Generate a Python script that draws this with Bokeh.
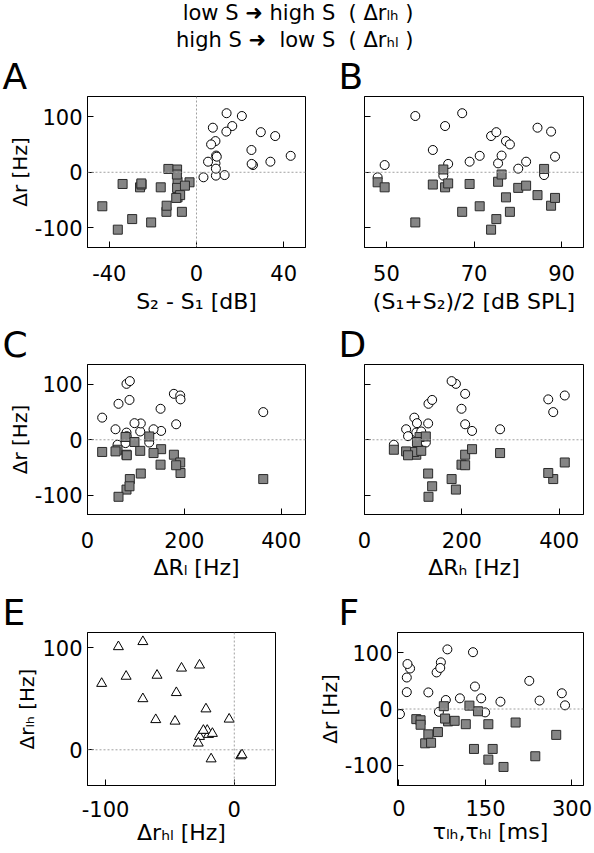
from bokeh.plotting import figure
from bokeh.layouts import column, row
from bokeh.models import (ColumnDataSource, Span, Legend, LegendItem, Title,
                          FixedTicker, Range1d, CustomJSTickFormatter)
from bokeh.embed import file_html
from bokeh.resources import INLINE

# ---------------- data (22 neurons) ----------------
dr_lh = [-9, 13, 101, 40, -6, 83, 15, 106, 19, 29.5, 65, 72, 16, 30, 56, 50, 6.5, 19, 80, -5, 73, 28]
dr_hl = [-18, -27, -90, -22, 5, -27, -20, -71, -21, -61, -103, -84, -17, -4, -45, -71, -28, -24, -41, 6, -60, -46]
dS = [3.2, 25.9, 20.8, 25.2, 8.9, 16.4, 25.3, 13.8, 33.9, 43.2, 36.1, 29.5, 8.7, 9.0, 8.7, 6.7, 8.9, 5.3, 7.5, 12.9, 13.7, 9.3]
level = [48.0, 49.6, 56.6, 60.6, 63.0, 63.4, 64.1, 67.3, 69.0, 71.3, 73.9, 75.1, 75.5, 76.3, 77.3, 78.2, 80.1, 81.9, 84.5, 86.0, 87.6, 88.5]
dR_l = [62, 80.5, 80.5, 30.3, 78.5, 178.3, 108.8, 87.4, 57.8, 110, 64, 86.7, 152, 97, 150.8, 362.8, 81, 136.3, 191.4, 127.4, 192, 183]
dR_h = [60.3, 106.4, 187.8, 102.4, 113.2, 206.8, 116.6, 179, 85.5, 130.8, 131.5, 139, 221, 107.8, 199.3, 387.8, 89.5, 278.6, 411.5, 126, 377.6, 206.8]
tau_lh = [1.7, 176, 128.4, 131.8, 149.4, 72.7, 243.8, 84, 105.7, 51, 65.3, 19.3, 81.3, 13.6, 13.6, 226, 288, 142.6, 14.8, 69.3, 71.6, 282.4]
tau_hl = [30.1, 115.9, 155, 85.2, 77.8, 155, 37.5, 130.1, 96.6, 45.5, 181.3, 236.4, 80, 137, 51, 162.5, 37.5, 202.3, 67.6, 122.2, 55.7, 272.7]

legend_labels = ["\u00a0low S \u279c high S\u00a0\u00a0( \u0394r\u2097\u2095 )",
                 "high S \u279c\u00a0\u00a0low S\u00a0\u00a0( \u0394r\u2095\u2097 )"]

src = ColumnDataSource(data=dict(
    dr_lh=dr_lh, dr_hl=dr_hl, dS=dS, dS_hl=[-v for v in dS], level=level,
    dR_l=dR_l, dR_h=dR_h, tau_lh=tau_lh, tau_hl=tau_hl))

FONT = "DejaVu Sans"
TICK_FS = "21px"
YLABEL_FS = "20px"
XLABEL_FS = "22px"
LETTER_FS = "36px"

CIRC = dict(marker="circle", size=9, fill_color="white", line_color="black", line_width=1)
SQR = dict(marker="square", size=9, fill_color="#858585", line_color="#2a2a2a", line_width=1)
TRI = dict(marker="triangle", size=10, fill_color="white", line_color="black", line_width=1)


def panel(letter, xr, yr, xticks, yticks, fw, fh, bl, bt, br, bb, xlabel, ylabel,
          letter_off, ylabels=True, xstand=(16, 7)):
    p = figure(frame_width=fw, frame_height=fh, x_range=Range1d(*xr), y_range=Range1d(*yr),
               output_backend="svg", toolbar_location=None,
               min_border_left=bl, min_border_top=bt, min_border_right=br, min_border_bottom=bb)
    p.xgrid.visible = False
    p.ygrid.visible = False
    p.outline_line_color = "black"
    p.outline_line_width = 1
    p.xaxis.ticker = FixedTicker(ticks=xticks)
    p.yaxis.ticker = FixedTicker(ticks=yticks)
    for ax in (p.xaxis[0], p.yaxis[0]):
        ax.major_tick_in = 6
        ax.major_tick_out = 0
        ax.minor_tick_in = 0
        ax.minor_tick_out = 0
        ax.axis_line_color = "black"
        ax.major_tick_line_color = "black"
        ax.major_label_text_font = FONT
        ax.major_label_text_font_size = TICK_FS
        ax.major_label_text_color = "black"
        ax.axis_label_text_font = FONT
        ax.axis_label_text_font_style = "normal"
        ax.axis_label_text_color = "black"
        ax.formatter = CustomJSTickFormatter(code="return tick.toFixed(0)")
    p.xaxis.axis_label_text_font_size = XLABEL_FS
    p.yaxis.axis_label_text_font_size = YLABEL_FS
    p.xaxis.major_label_standoff = xstand[0]
    p.xaxis.axis_label_standoff = xstand[1]
    p.yaxis.major_label_standoff = 5
    p.yaxis.axis_label_standoff = 0
    p.xaxis.axis_label = xlabel
    if ylabels:
        p.yaxis.axis_label = ylabel
    else:
        p.yaxis.formatter = CustomJSTickFormatter(code="return ''")
        p.yaxis.major_label_standoff = 0
    p.title = Title(text=letter, align="left", offset=letter_off, standoff=0,
                    text_font=FONT, text_font_size=LETTER_FS, text_font_style="normal",
                    text_color="black")
    return p


def zero(p, dim):
    p.add_layout(Span(location=0, dimension=dim, line_color="#a0a0a0", line_dash="2 2", line_width=1))


YR = (-135, 136)
BT = 44

pA = panel("A", (-50, 50), YR, [-40, 0, 40], [-100, 0, 100], 218, 151, 87, BT, 5, 73,
           "S\u2082 - S\u2081 [dB]", "\u0394r [Hz]", -85, xstand=(17, 5))
zero(pA, "width"); zero(pA, "height")
pA.scatter("dS", "dr_lh", source=src, **CIRC)
pA.scatter("dS_hl", "dr_hl", source=src, **SQR)

pB = panel("B", (45, 95), YR, [50, 70, 90], [-100, 0, 100], 219, 151, 54, BT, 9, 73,
           "(S\u2081+S\u2082)/2 [dB SPL]", "", -26, ylabels=False, xstand=(17, 5))
zero(pB, "width")
pB.scatter("level", "dr_lh", source=src, **CIRC)
pB.scatter("level", "dr_hl", source=src, **SQR)

pC = panel("C", (0, 450), YR, [0, 200, 400], [-100, 0, 100], 218, 150, 87, BT, 5, 74,
           "\u0394R\u2097 [Hz]", "\u0394r [Hz]", -85, xstand=(17, 4))
zero(pC, "width")
pC.scatter("dR_l", "dr_lh", source=src, **CIRC)
pC.scatter("dR_l", "dr_hl", source=src, **SQR)

pD = panel("D", (0, 450), YR, [0, 200, 400], [-100, 0, 100], 219, 150, 54, BT, 9, 74,
           "\u0394R\u2095 [Hz]", "", -26, ylabels=False, xstand=(17, 4))
zero(pD, "width")
pD.scatter("dR_h", "dr_lh", source=src, **CIRC)
pD.scatter("dR_h", "dr_hl", source=src, **SQR)

pE = panel("E", (-114, 32), (-35, 115), [-100, 0], [0, 100], 188, 153, 87, BT, 35, 66,
           "\u0394r\u2095\u2097 [Hz]", "\u0394r\u2097\u2095 [Hz]", -85, xstand=(15, 0))
zero(pE, "width"); zero(pE, "height")
pE.scatter("dr_hl", "dr_lh", source=src, **TRI)

pF = panel("F", (-2.5, 320), (-136, 136), [0, 150, 300], [-100, 0, 100], 186, 153, 87, BT, 9, 66,
           "\u03c4\u2097\u2095,\u03c4\u2095\u2097 [ms]", "\u0394r [Hz]", -59, xstand=(14, 0))
zero(pF, "width")
pF.scatter("tau_lh", "dr_lh", source=src, **CIRC)
pF.scatter("tau_hl", "dr_hl", source=src, **SQR)

# legend figure
leg = figure(width=592, height=52, output_backend="svg", toolbar_location=None,
             x_range=Range1d(0, 1), y_range=Range1d(0, 1), x_axis_type=None, y_axis_type=None,
             min_border=0)
leg.outline_line_color = None
empty = ColumnDataSource(data=dict(x=[], y=[]))
r1 = leg.scatter("x", "y", source=empty, **CIRC)
r2 = leg.scatter("x", "y", source=empty, **SQR)
lg = Legend(items=[LegendItem(label=legend_labels[0], renderers=[r1]),
                   LegendItem(label=legend_labels[1], renderers=[r2])],
            location=(151, 0), label_text_font=FONT, label_text_font_size="21px",
            label_text_color="black",
            glyph_width=16, glyph_height=25, label_height=25, label_standoff=9, spacing=2,
            padding=0, margin=0, border_line_color=None, background_fill_alpha=0)
leg.add_layout(lg)

layout = column(leg, row(pA, pB), row(pC, pD), row(pE, pF))
open("out.html", "w").write(file_html(layout, INLINE))
